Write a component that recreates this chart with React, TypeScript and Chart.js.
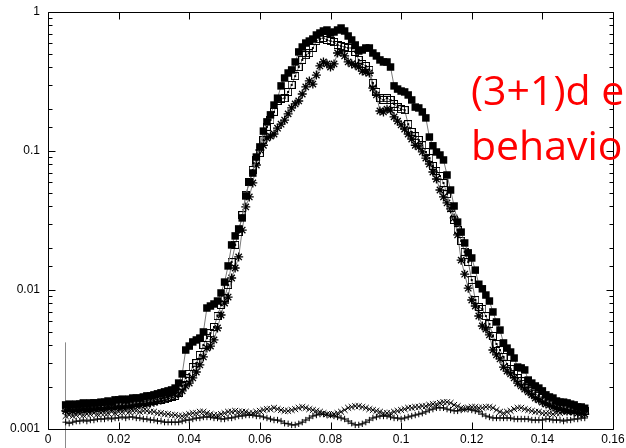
import React, { useEffect, useRef } from "react";
import { Chart, registerables } from "chart.js";

Chart.register(...registerables);

// Sampling positions along the horizontal axis
const X_VALUES = [
  0.005, 0.006, 0.007, 0.008, 0.009, 0.01, 0.011, 0.012, 0.013, 0.014,
  0.015, 0.016, 0.017, 0.018, 0.019, 0.02, 0.021, 0.022, 0.023, 0.024,
  0.025, 0.026, 0.027, 0.028, 0.029, 0.03, 0.031, 0.032, 0.033, 0.034,
  0.035, 0.036, 0.037, 0.038, 0.039, 0.04, 0.041, 0.042, 0.043, 0.044,
  0.045, 0.046, 0.047, 0.048, 0.049, 0.05, 0.051, 0.052, 0.053, 0.054,
  0.055, 0.056, 0.057, 0.058, 0.059, 0.06, 0.061, 0.062, 0.063, 0.064,
  0.065, 0.066, 0.067, 0.068, 0.069, 0.07, 0.071, 0.072, 0.073, 0.074,
  0.075, 0.076, 0.077, 0.078, 0.079, 0.08, 0.081, 0.082, 0.083, 0.084,
  0.085, 0.086, 0.087, 0.088, 0.089, 0.09, 0.091, 0.092, 0.093, 0.094,
  0.095, 0.096, 0.097, 0.098, 0.099, 0.1, 0.101, 0.102, 0.103, 0.104,
  0.105, 0.106, 0.107, 0.108, 0.109, 0.11, 0.111, 0.112, 0.113, 0.114,
  0.115, 0.116, 0.117, 0.118, 0.119, 0.12, 0.121, 0.122, 0.123, 0.124,
  0.125, 0.126, 0.127, 0.128, 0.129, 0.13, 0.131, 0.132, 0.133, 0.134,
  0.135, 0.136, 0.137, 0.138, 0.139, 0.14, 0.141, 0.142, 0.143, 0.144,
  0.145, 0.146, 0.147, 0.148, 0.149, 0.15, 0.151, 0.152,
];

// Filled squares
const FILLED_SQUARES = [
  0.00149, 0.00151, 0.00149, 0.00151, 0.00151, 0.00154, 0.00151, 0.00154, 0.00154, 0.00154,
  0.00156, 0.00156, 0.00159, 0.00156, 0.00162, 0.00162, 0.00164, 0.00162, 0.00164, 0.00167,
  0.00167, 0.00167, 0.0017, 0.00173, 0.00173, 0.00176, 0.00179, 0.00182, 0.00185, 0.00188,
  0.00191, 0.00197, 0.00214, 0.00249, 0.0037, 0.00395, 0.00423, 0.00437, 0.00451, 0.00499,
  0.00742, 0.00767, 0.00793, 0.00833, 0.00952, 0.0114, 0.0149, 0.0211, 0.0245, 0.0275,
  0.033, 0.0475, 0.0598, 0.0694, 0.0905, 0.107, 0.139, 0.162, 0.182, 0.214,
  0.24, 0.294, 0.335, 0.364, 0.383, 0.437, 0.516, 0.56, 0.598, 0.618,
  0.639, 0.683, 0.706, 0.73, 0.742, 0.706, 0.718, 0.742, 0.767, 0.73,
  0.672, 0.629, 0.579, 0.524, 0.533, 0.551, 0.551, 0.507, 0.483, 0.452,
  0.437, 0.437, 0.402, 0.294, 0.279, 0.27, 0.266, 0.253, 0.233, 0.207,
  0.204, 0.191, 0.173, 0.126, 0.109, 0.0984, 0.0936, 0.0862, 0.0672, 0.0524,
  0.0402, 0.0308, 0.0261, 0.0218, 0.0185, 0.017, 0.0139, 0.011, 0.0102, 0.0092,
  0.00833, 0.00695, 0.00589, 0.00515, 0.00416, 0.00382, 0.00358, 0.00324, 0.00279, 0.00275,
  0.00266, 0.00225, 0.00214, 0.00204, 0.00197, 0.00188, 0.00176, 0.0017, 0.00167, 0.00159,
  0.00156, 0.00156, 0.00154, 0.00151, 0.00149, 0.00144, 0.00144, 0.00141,
];

// Open squares with a centre dot
const OPEN_SQUARES = [
  0.00142, 0.00144, 0.00142, 0.00142, 0.00144, 0.00144, 0.00142, 0.00146, 0.00144, 0.00146,
  0.00146, 0.00146, 0.00149, 0.00146, 0.00149, 0.00151, 0.00149, 0.00151, 0.00151, 0.00154,
  0.00154, 0.00156, 0.00156, 0.00156, 0.00159, 0.00159, 0.00162, 0.00162, 0.00164, 0.00167,
  0.0017, 0.00173, 0.00182, 0.00204, 0.00233, 0.00249, 0.00279, 0.00298, 0.00341, 0.00402,
  0.00451, 0.0049, 0.00542, 0.0065, 0.0078, 0.00876, 0.01086, 0.0159, 0.0211, 0.0261,
  0.0346, 0.0483, 0.0598, 0.073, 0.0862, 0.0967, 0.12, 0.149, 0.167, 0.191,
  0.229, 0.237, 0.24, 0.266, 0.299, 0.346, 0.402, 0.452, 0.49, 0.507,
  0.551, 0.618, 0.639, 0.65, 0.629, 0.618, 0.608, 0.579, 0.569, 0.56,
  0.551, 0.551, 0.516, 0.452, 0.423, 0.409, 0.383, 0.309, 0.266, 0.24,
  0.233, 0.24, 0.233, 0.218, 0.207, 0.2, 0.197, 0.156, 0.137, 0.128,
  0.12, 0.11, 0.0984, 0.089, 0.078, 0.0718, 0.0661, 0.0589, 0.049, 0.0389,
  0.0319, 0.027, 0.0225, 0.0188, 0.0159, 0.0118, 0.00847, 0.00755, 0.0073, 0.0065,
  0.00569, 0.00467, 0.00409, 0.0037, 0.0033, 0.00294, 0.0027, 0.00249, 0.00233, 0.00221,
  0.00211, 0.00197, 0.00188, 0.00179, 0.00173, 0.00167, 0.00162, 0.00156, 0.00154, 0.00149,
  0.00146, 0.00144, 0.00142, 0.00139, 0.00139, 0.00137, 0.00137, 0.00135,
];

// Asterisks
const ASTERISKS = [
  0.00135, 0.00137, 0.00135, 0.00137, 0.00137, 0.00139, 0.00137, 0.00139, 0.00139, 0.00142,
  0.00139, 0.00142, 0.00142, 0.00144, 0.00142, 0.00144, 0.00144, 0.00146, 0.00146, 0.00146,
  0.00149, 0.00149, 0.00151, 0.00151, 0.00154, 0.00156, 0.00159, 0.00162, 0.00164, 0.0017,
  0.00173, 0.00176, 0.00179, 0.00188, 0.00204, 0.00214, 0.00233, 0.00257, 0.00289, 0.0033,
  0.00382, 0.00395, 0.00437, 0.00533, 0.00661, 0.00806, 0.0089, 0.0122, 0.0144, 0.0173,
  0.027, 0.0396, 0.0467, 0.0589, 0.0793, 0.1017, 0.11, 0.124, 0.128, 0.1325,
  0.146, 0.156, 0.167, 0.185, 0.204, 0.218, 0.229, 0.257, 0.289, 0.319,
  0.303, 0.352, 0.409, 0.437, 0.423, 0.402, 0.423, 0.507, 0.516, 0.483,
  0.437, 0.423, 0.416, 0.402, 0.376, 0.37, 0.364, 0.284, 0.253, 0.194,
  0.191, 0.2, 0.197, 0.176, 0.164, 0.154, 0.144, 0.1325, 0.122, 0.11,
  0.107, 0.0984, 0.089, 0.0806, 0.0706, 0.0629, 0.0524, 0.0467, 0.0423, 0.0383,
  0.033, 0.0249, 0.0164, 0.013, 0.0103, 0.00847, 0.00767, 0.0065, 0.00551, 0.00524,
  0.00475, 0.0037, 0.00341, 0.00319, 0.00279, 0.00261, 0.00249, 0.00233, 0.00214, 0.00204,
  0.00194, 0.00185, 0.00176, 0.00167, 0.00162, 0.00156, 0.00151, 0.00149, 0.00144, 0.00142,
  0.00139, 0.00137, 0.00135, 0.00135, 0.00133, 0.0013, 0.0013, 0.00128,
];

// Diagonal crosses along the floor
const CROSSES = [
  0.00124, 0.00126, 0.00124, 0.00126, 0.00128, 0.00126, 0.00128, 0.00128, 0.0013, 0.00128,
  0.0013, 0.0013, 0.0013, 0.00133, 0.0013, 0.00133, 0.00133, 0.00135, 0.00133, 0.00135,
  0.00135, 0.00133, 0.00135, 0.00135, 0.00133, 0.00133, 0.0013, 0.0013, 0.00128, 0.00128,
  0.00126, 0.00126, 0.00124, 0.00124, 0.00126, 0.00128, 0.0013, 0.0013, 0.00133, 0.00133,
  0.0013, 0.00128, 0.00126, 0.00126, 0.00128, 0.0013, 0.00133, 0.00133, 0.00135, 0.00133,
  0.00133, 0.00133, 0.0013, 0.0013, 0.00133, 0.00135, 0.00137, 0.00139, 0.00139, 0.00142,
  0.00139, 0.00137, 0.00135, 0.00135, 0.00137, 0.00139, 0.00142, 0.00144, 0.00142, 0.00139,
  0.00137, 0.00135, 0.00133, 0.0013, 0.00128, 0.00126, 0.00128, 0.0013, 0.00133, 0.00137,
  0.00142, 0.00144, 0.00146, 0.00146, 0.00144, 0.00142, 0.00139, 0.00137, 0.00135, 0.00133,
  0.0013, 0.0013, 0.0013, 0.00133, 0.00135, 0.00137, 0.00139, 0.00142, 0.00142, 0.00144,
  0.00144, 0.00146, 0.00146, 0.00149, 0.00151, 0.00151, 0.00154, 0.00156, 0.00156, 0.00154,
  0.00149, 0.00146, 0.00142, 0.00139, 0.00142, 0.00144, 0.00144, 0.00142, 0.00142, 0.00144,
  0.00144, 0.00142, 0.00137, 0.00133, 0.0013, 0.00133, 0.00135, 0.00139, 0.00142, 0.00142,
  0.00139, 0.00137, 0.00135, 0.00133, 0.00133, 0.0013, 0.0013, 0.0013, 0.00128, 0.0013,
  0.0013, 0.00133, 0.00133, 0.00135, 0.00135, 0.00135, 0.00137, 0.00137,
];

// Upright crosses along the floor
const PLUSES = [
  0.00112, 0.0011, 0.00112, 0.00114, 0.00114, 0.00116, 0.00114, 0.00116, 0.00116, 0.00118,
  0.00118, 0.00118, 0.0012, 0.00118, 0.0012, 0.0012, 0.00122, 0.0012, 0.00122, 0.00122,
  0.0012, 0.0012, 0.00118, 0.00118, 0.00116, 0.00116, 0.00114, 0.00114, 0.00112, 0.00112,
  0.00112, 0.00112, 0.00112, 0.00114, 0.00116, 0.00116, 0.00118, 0.0012, 0.0012, 0.00122,
  0.00122, 0.00122, 0.0012, 0.0012, 0.00118, 0.00118, 0.0012, 0.0012, 0.00122, 0.00124,
  0.00124, 0.00126, 0.00126, 0.00126, 0.00124, 0.00124, 0.00122, 0.0012, 0.00118, 0.00116,
  0.00116, 0.00114, 0.0011, 0.00109, 0.00107, 0.00107, 0.00109, 0.00112, 0.00116, 0.0012,
  0.00124, 0.00126, 0.00128, 0.00128, 0.00126, 0.00126, 0.00124, 0.00122, 0.0012, 0.00118,
  0.00114, 0.0011, 0.00107, 0.00107, 0.00109, 0.00112, 0.00116, 0.0012, 0.00122, 0.00124,
  0.00124, 0.00124, 0.00122, 0.0012, 0.0012, 0.00118, 0.0012, 0.00122, 0.00124, 0.00126,
  0.00128, 0.0013, 0.00133, 0.00137, 0.00139, 0.00142, 0.00142, 0.00142, 0.00139, 0.00137,
  0.00135, 0.00135, 0.00137, 0.00139, 0.00139, 0.00137, 0.00135, 0.00133, 0.00128, 0.00124,
  0.00122, 0.0012, 0.0012, 0.0012, 0.0012, 0.0012, 0.0012, 0.00118, 0.00118, 0.00118,
  0.00118, 0.00118, 0.00116, 0.00116, 0.00116, 0.00116, 0.00118, 0.00118, 0.00116, 0.00116,
  0.00116, 0.00114, 0.00116, 0.00116, 0.00118, 0.00118, 0.0012, 0.0012,
];

const X_MIN = 0;
const X_MAX = 0.16;
const X_STEP = 0.02;
const Y_MIN = 0.001;
const Y_MAX = 1;

// Thin vertical guide near the left edge
const GUIDE_X = 0.0048;
const GUIDE_TOP = 0.0042;

const ANNOTATION_LINES = ["(3+1)d e", "behavio"];

const TICK_FONT = { family: "'Liberation Sans', Arial, sans-serif", size: 12 };
const LINE_GREY = "#7a7a7a";

function boxDotMarker(): HTMLCanvasElement {
  const c = document.createElement("canvas");
  c.width = 8;
  c.height = 8;
  const g = c.getContext("2d")!;
  g.strokeStyle = "#000";
  g.lineWidth = 1;
  g.strokeRect(0.5, 0.5, 7, 7);
  g.fillStyle = "#000";
  g.fillRect(3, 3, 2, 2);
  return c;
}

const pairs = (ys: number[]) => X_VALUES.map((x, i) => ({ x, y: ys[i] }));

const isDecade = (v: number) => {
  const l = Math.log10(v);
  return Math.abs(l - Math.round(l)) < 1e-6;
};

// Box, inward ticks on all four sides and the guide line
const framePlugin = {
  id: "frameTicks",
  beforeDatasetsDraw(chart: any) {
    const { ctx, scales } = chart;
    const px = Math.round(scales.x.getPixelForValue(GUIDE_X)) + 0.5;
    const top = scales.y.getPixelForValue(GUIDE_TOP);
    ctx.save();
    ctx.strokeStyle = "#8a8a8a";
    ctx.lineWidth = 1;
    ctx.beginPath();
    ctx.moveTo(px, top);
    ctx.lineTo(px, chart.height);
    ctx.stroke();
    ctx.restore();
  },
  afterDatasetsDraw(chart: any) {
    const { ctx, chartArea: a, scales } = chart;
    const xs = scales.x;
    const ys = scales.y;
    const L = Math.round(a.left) + 0.5;
    const R = Math.round(a.right) + 0.5;
    const T = Math.round(a.top) + 0.5;
    const B = Math.round(a.bottom) + 0.5;
    ctx.save();
    ctx.strokeStyle = "#000";
    ctx.lineWidth = 1;
    ctx.beginPath();
    ctx.rect(L, T, R - L, B - T);
    for (const t of ys.ticks) {
      const y = Math.round(ys.getPixelForValue(t.value)) + 0.5;
      const len = isDecade(t.value) ? 7 : 4;
      ctx.moveTo(L, y);
      ctx.lineTo(L + len, y);
      ctx.moveTo(R, y);
      ctx.lineTo(R - len, y);
    }
    for (const t of xs.ticks) {
      const x = Math.round(xs.getPixelForValue(t.value)) + 0.5;
      ctx.moveTo(x, B);
      ctx.lineTo(x, B - 7);
      ctx.moveTo(x, T);
      ctx.lineTo(x, T + 7);
    }
    ctx.stroke();
    ctx.restore();
  },
};

export default function App() {
  const canvasRef = useRef<HTMLCanvasElement | null>(null);

  useEffect(() => {
    const canvas = canvasRef.current;
    if (!canvas) return;
    const boxDot = boxDotMarker();
    const common = {
      borderColor: LINE_GREY,
      borderWidth: 1,
      fill: false,
      tension: 0,
      pointBorderColor: "#000",
      pointBackgroundColor: "#000",
    };
    const chart = new Chart(canvas, {
      type: "line",
      data: {
        datasets: [
          {
            ...common,
            label: "filled squares",
            data: pairs(FILLED_SQUARES),
            pointStyle: "rect",
            pointRadius: 5.3,
            pointBorderWidth: 0,
            order: 1,
          },
          {
            ...common,
            label: "open squares",
            data: pairs(OPEN_SQUARES),
            pointStyle: boxDot,
            pointRadius: 4,
            order: 2,
          },
          {
            ...common,
            label: "asterisks",
            data: pairs(ASTERISKS),
            pointStyle: "star",
            pointRadius: 4.5,
            pointBorderWidth: 1.3,
            order: 3,
          },
          {
            ...common,
            label: "crosses",
            data: pairs(CROSSES),
            pointStyle: "crossRot",
            pointRadius: 4.2,
            pointBorderWidth: 1,
            order: 4,
          },
          {
            ...common,
            label: "pluses",
            data: pairs(PLUSES),
            pointStyle: "cross",
            pointRadius: 3.2,
            pointBorderWidth: 1,
            order: 5,
          },
        ],
      },
      options: {
        animation: false,
        responsive: false,
        devicePixelRatio: 1,
        events: [],
        layout: { padding: { top: 12, right: 13, left: 0, bottom: 0 } },
        plugins: {
          legend: { display: false },
          tooltip: { enabled: false },
        },
        scales: {
          x: {
            type: "linear",
            min: X_MIN,
            max: X_MAX,
            grid: { display: false, drawTicks: false },
            border: { display: false },
            ticks: {
              stepSize: X_STEP,
              color: "#000",
              font: TICK_FONT,
              padding: 3,
              maxRotation: 0,
              autoSkip: false,
              callback: (v: any) => String(parseFloat(Number(v).toFixed(2))),
            },
            afterFit: (s: any) => {
              s.height = 19;
              s.paddingLeft = 0;
              s.paddingRight = 0;
            },
          },
          y: {
            type: "logarithmic",
            min: Y_MIN,
            max: Y_MAX,
            grid: { display: false, drawTicks: false },
            border: { display: false },
            ticks: {
              color: "#000",
              font: TICK_FONT,
              padding: 8,
              autoSkip: false,
              callback: (v: any) =>
                isDecade(Number(v)) ? String(parseFloat(Number(v).toPrecision(3))) : "",
            },
            afterFit: (s: any) => {
              s.width = 48;
              s.paddingTop = 0;
              s.paddingBottom = 0;
            },
          },
        },
      },
      plugins: [framePlugin],
    } as any);
    return () => chart.destroy();
  }, []);

  return (
    <div
      style={{
        position: "absolute",
        left: 0,
        top: 0,
        width: 626,
        height: 448,
        overflow: "hidden",
        background: "#fff",
      }}
    >
      <canvas ref={canvasRef} width={626} height={448} style={{ display: "block" }} />
      <div
        style={{
          position: "absolute",
          left: 471,
          top: 62,
          color: "#ff0000",
          fontFamily: "'Open Sans', sans-serif",
          fontSize: 41,
          lineHeight: "55px",
          whiteSpace: "pre",
          pointerEvents: "none",
        }}
      >
        {ANNOTATION_LINES.map((t) => (
          <div key={t}>{t}</div>
        ))}
      </div>
    </div>
  );
}
